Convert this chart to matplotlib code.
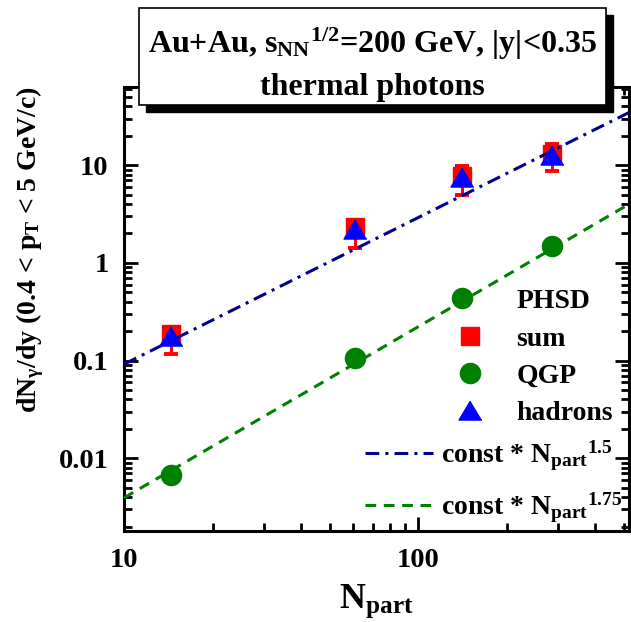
import numpy as np
import matplotlib
matplotlib.use('Agg')
import matplotlib.pyplot as plt
from matplotlib.lines import Line2D
from matplotlib.patches import Rectangle
from matplotlib.ticker import LogLocator, NullFormatter, FuncFormatter

# number of participants for the centrality classes
n_part = [14.5, 61, 141, 285]

# PHSD thermal photon yields
sum_yield = [0.185, 2.3, 7.8, 13.0]
sum_err_low = [0.067, 0.87, 2.8, 4.3]
sum_err_high = [0.035, 0.46, 1.9, 3.3]
qgp_yield = [0.0067, 0.107, 0.44, 1.49]
hadron_yield = [0.18, 2.2, 7.6, 12.7]

# scaling curves const * Npart^alpha
const_15, alpha_15 = 0.0029, 1.5
const_175, alpha_175 = 7.0e-5, 1.75

plt.rcParams['font.family'] = 'serif'
plt.rcParams['font.serif'] = ['Liberation Serif', 'DejaVu Serif']
plt.rcParams['font.weight'] = 'bold'
plt.rcParams['axes.labelweight'] = 'bold'
plt.rcParams['mathtext.fontset'] = 'custom'
plt.rcParams['mathtext.rm'] = 'Liberation Serif:bold'
plt.rcParams['mathtext.it'] = 'Liberation Serif:bold'
plt.rcParams['mathtext.bf'] = 'Liberation Serif:bold'

fig = plt.figure(figsize=(6.31, 6.22), dpi=100)
ax = fig.add_axes([0.1965, 0.1463, 0.8005, 0.7138])

xmin, xmax = 10, 522
ymin, ymax = 0.0018, 63
ax.set_xscale('log')
ax.set_yscale('log')
ax.set_xlim(xmin, xmax)
ax.set_ylim(ymin, ymax)

# scaling lines
x_line = np.array([xmin, xmax], dtype=float)
ax.plot(x_line, const_15 * x_line ** alpha_15, color='#000094', lw=2.2,
        linestyle=(0, (4.5, 2, 1, 2)), zorder=3)
ax.plot(x_line, const_175 * x_line ** alpha_175, color='#008000', lw=2.2,
        linestyle=(0, (3.5, 2.5)), zorder=3)

# markers
tri = [(0, 1), (-1.2, -1), (1.2, -1)]
ax.errorbar(n_part, sum_yield, yerr=[sum_err_low, sum_err_high], fmt='s',
            color='#FF0000', ms=13, elinewidth=2.2, capsize=4.7, capthick=2.8,
            zorder=2)
ax.plot(n_part, qgp_yield, 'o', color='#008000', ms=14.5, zorder=4)
ax.plot(n_part, hadron_yield, marker=tri, linestyle='none', color='#0000FF',
        ms=16.5, zorder=5)

# axes styling
for sp in ax.spines.values():
    sp.set_linewidth(2.2)
ax.tick_params(which='both', direction='in', top=True, right=True, width=2)
ax.tick_params(which='major', length=10, labelsize=20.5)
ax.tick_params(which='minor', length=6)
ax.tick_params(axis='x', pad=12)
ax.tick_params(axis='y', pad=11)
ax.xaxis.set_major_locator(LogLocator(base=10))
ax.xaxis.set_minor_locator(LogLocator(base=10, subs=np.arange(2, 10)))
ax.xaxis.set_minor_formatter(NullFormatter())
ax.yaxis.set_major_locator(LogLocator(base=10))
ax.yaxis.set_minor_locator(LogLocator(base=10, subs=np.arange(2, 10)))
ax.yaxis.set_minor_formatter(NullFormatter())
fmt = FuncFormatter(lambda v, p: f'{v:g}')
ax.xaxis.set_major_formatter(fmt)
ax.yaxis.set_major_formatter(fmt)

ax.set_xlabel(r'N$_{\mathregular{part}}$', fontsize=26)
ax.xaxis.set_label_coords(0.5, -0.115)
ax.set_ylabel(r'dN$_\gamma$/dy (0.4 < p$_{\mathregular{T}}$ < 5 GeV/c)',
              fontsize=20)
ax.yaxis.set_label_coords(-0.155, 0.635)

# legends
h_blank = Line2D([], [], linestyle='none')
h_sum = Line2D([], [], marker='s', color='#FF0000', linestyle='none', ms=13)
h_qgp = Line2D([], [], marker='o', color='#008000', linestyle='none', ms=14.5)
h_had = Line2D([], [], marker=tri, color='#0000FF', linestyle='none', ms=16.5)
leg1 = ax.legend([h_blank, h_sum, h_qgp, h_had], ['PHSD', 'sum', 'QGP', 'hadrons'],
                 loc='upper left', bbox_to_anchor=(0.6475, 0.545), frameon=False,
                 fontsize=20, borderpad=0, borderaxespad=0, handlelength=1.35,
                 handletextpad=1.0, labelspacing=0.42)
ax.add_artist(leg1)

h_l15 = Line2D([], [], color='#000094', lw=2.2, linestyle=(0, (4.5, 2, 1, 2)))
h_l175 = Line2D([], [], color='#008000', lw=2.2, linestyle=(0, (3.5, 2.5)))
ax.legend([h_l15, h_l175],
          [r'const * N$_{\mathregular{part}}$$^{\mathregular{1.5}}$',
           r'const * N$_{\mathregular{part}}$$^{\mathregular{1.75}}$'],
          loc='upper left', bbox_to_anchor=(0.477, 0.208), frameon=False,
          fontsize=20, borderpad=0, borderaxespad=0, handlelength=2.45,
          handletextpad=0.3, labelspacing=0.63)

# title box with shadow
bx0, by0, bw, bh = 0.2203, 0.8312, 0.7401, 0.1559
fig.add_artist(Rectangle((bx0 + 0.0111, by0 - 0.01125), bw, bh,
                         transform=fig.transFigure, facecolor='black',
                         edgecolor='black', zorder=10))
fig.add_artist(Rectangle((bx0, by0), bw, bh, transform=fig.transFigure,
                         facecolor='white', edgecolor='black', lw=1.2, zorder=11))
fig.text(0.590, 0.9148,
         r'Au+Au, s$_{\mathregular{NN}}$$^{\mathregular{1/2}}$=200 GeV, |y|<0.35',
         ha='center', va='baseline', fontsize=23, zorder=12)
fig.text(0.590, 0.8473, 'thermal photons', ha='center', va='baseline',
         fontsize=23, zorder=12)

fig.savefig('out.png', dpi=100)
